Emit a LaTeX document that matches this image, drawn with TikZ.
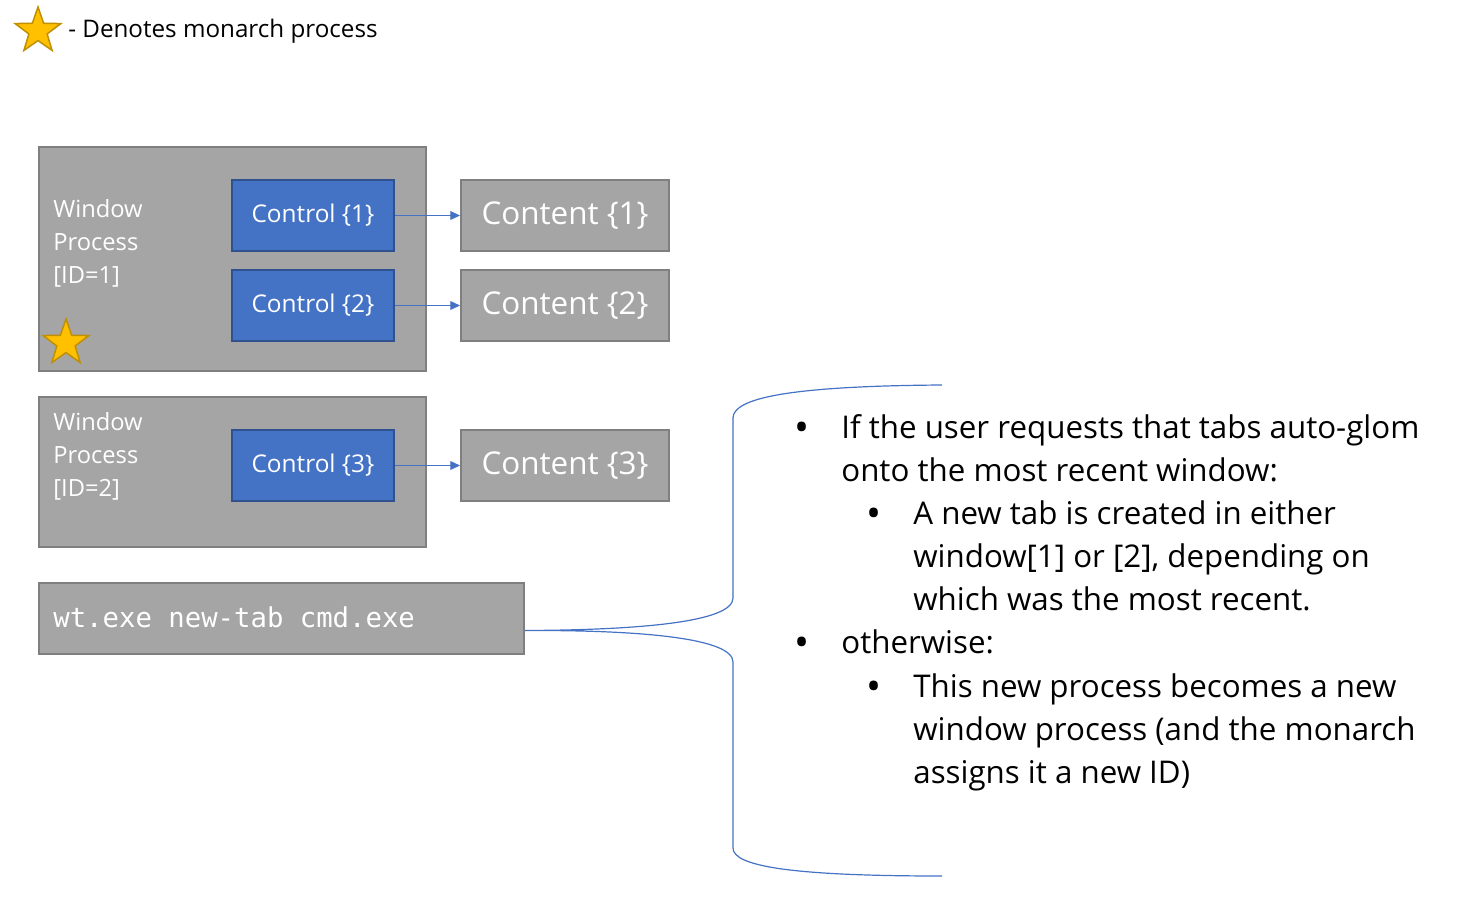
\documentclass[tikz,border=0pt]{standalone}
\usepackage{fontspec}
\setmainfont{Open Sans}
\setmonofont{DejaVu Sans Mono}
\usetikzlibrary{positioning,arrows.meta,shapes.geometric}
\definecolor{BoxGray}{HTML}{A5A5A5}
\definecolor{BoxEdge}{HTML}{7F7F7F}
\definecolor{CtrlBlue}{HTML}{4472C4}
\definecolor{CtrlEdge}{HTML}{2F528F}
\definecolor{StarGold}{HTML}{FFC000}
\definecolor{StarEdge}{HTML}{BF9000}
\definecolor{TextDark}{HTML}{000000}
\newlength{\px}
\setlength{\px}{0.02cm}

\begin{document}
\begin{tikzpicture}[x=1\px,y=-1\px,
    procbox/.style={draw=BoxEdge, fill=BoxGray, line width=2\px, inner sep=0, anchor=north west},
    ctrlbox/.style={draw=CtrlEdge, fill=CtrlBlue, line width=2\px, inner sep=0, anchor=north west,
      minimum width=162\px, minimum height=71\px, text=white, font=\fontsize{24.4\px}{29\px}\selectfont},
    contbox/.style={procbox, minimum width=208\px, minimum height=71\px, text=white,
      font=\fontsize{31.4\px}{37\px}\selectfont},
    wintext/.style={anchor=base west, align=left, inner sep=0, text=white,
      font=\fontsize{23.7\px}{33\px}\selectfont},
    monarch/.style={star, star points=5, star point ratio=2.5, draw=StarEdge, fill=StarGold,
      line width=1.5\px, minimum size=48\px, inner sep=0},
    bulletdot/.style={anchor=base, inner sep=0, text=TextDark, font=\fontsize{40\px}{43\px}\selectfont},
    item/.style={anchor=base west, align=left, inner sep=0, text=TextDark,
      font=\fontsize{31.3\px}{43\px}\selectfont}]
  \useasboundingbox (0,0) rectangle (1469,916);

  % legend
  \node[monarch] (legstar) at (38,31) {};
  \node[anchor=base west, inner sep=0, text=TextDark, font=\fontsize{24.2\px}{30\px}\selectfont]
    (legtext) at (68,37) {- Denotes monarch process};

  % window processes (label nodes sit on their last baseline)
  \node[procbox, minimum width=387\px, minimum height=224\px] (win1) at (38,146) {};
  \node[procbox, minimum width=387\px, minimum height=150\px] (win2) at (38,396) {};
  \node[wintext] (lab1) at (53,283) {Window\\Process\\{[ID=1]}};
  \node[wintext] (lab2) at (53,496) {Window\\Process\\{[ID=2]}};
  \node[monarch] (star1) at (66,343) {};

  \foreach \i/\y in {1/179,2/269,3/429} {
      \node[ctrlbox] (ctrl\i) at (231,\y) {Control \{\i\}};
      \node[contbox] (cont\i) at (460,\y) {Content \{\i\}};
      \draw[CtrlBlue, line width=1\px, -{Triangle[length=5.5pt,width=5pt]}] (ctrl\i) -- (cont\i);
    }

  % command line
  \node[procbox, minimum width=485\px, minimum height=71\px] (cmd) at (38,582) {};
  \node[anchor=west, inner sep=0, text=white, font=\ttfamily\fontsize{27.3\px}{32\px}\selectfont]
    (cmdtext) at (53,617) {wt.exe new-tab cmd.exe};

  % brace
  \coordinate (braceTip) at ([yshift=-12\px]cmd.east);
  \coordinate (braceTop) at (942,385);
  \coordinate (braceBot) at (942,876);
  \draw[CtrlBlue, line width=1.2\px]
    (braceTop) .. controls (790,386) and (733,398) .. (733,418) -- (733,598)
    .. controls (733,622) and (640,630) .. (braceTip)
    .. controls (640,630) and (733,638) .. (733,662) -- (733,848)
    .. controls (733,866) and (790,876) .. (braceBot);

  % notes
  \node[bulletdot] (b1) at (802,441) {•};
  \node[item] (it1) at (841,481) {If the user requests that tabs auto-glom\\onto the most recent window:};
  \node[bulletdot] (b2) at (874,527) {•};
  \node[item] (it2) at (913,610) {A new tab is created in either\\window[1] or [2], depending on\\which was the most recent.};
  \node[bulletdot] (b3) at (802,656) {•};
  \node[item] (it3) at (841,653) {otherwise:};
  \node[bulletdot] (b4) at (874,700) {•};
  \node[item] (it4) at (913,783) {This new process becomes a new\\window process (and the monarch\\assigns it a new ID)};
\end{tikzpicture}
\end{document}
